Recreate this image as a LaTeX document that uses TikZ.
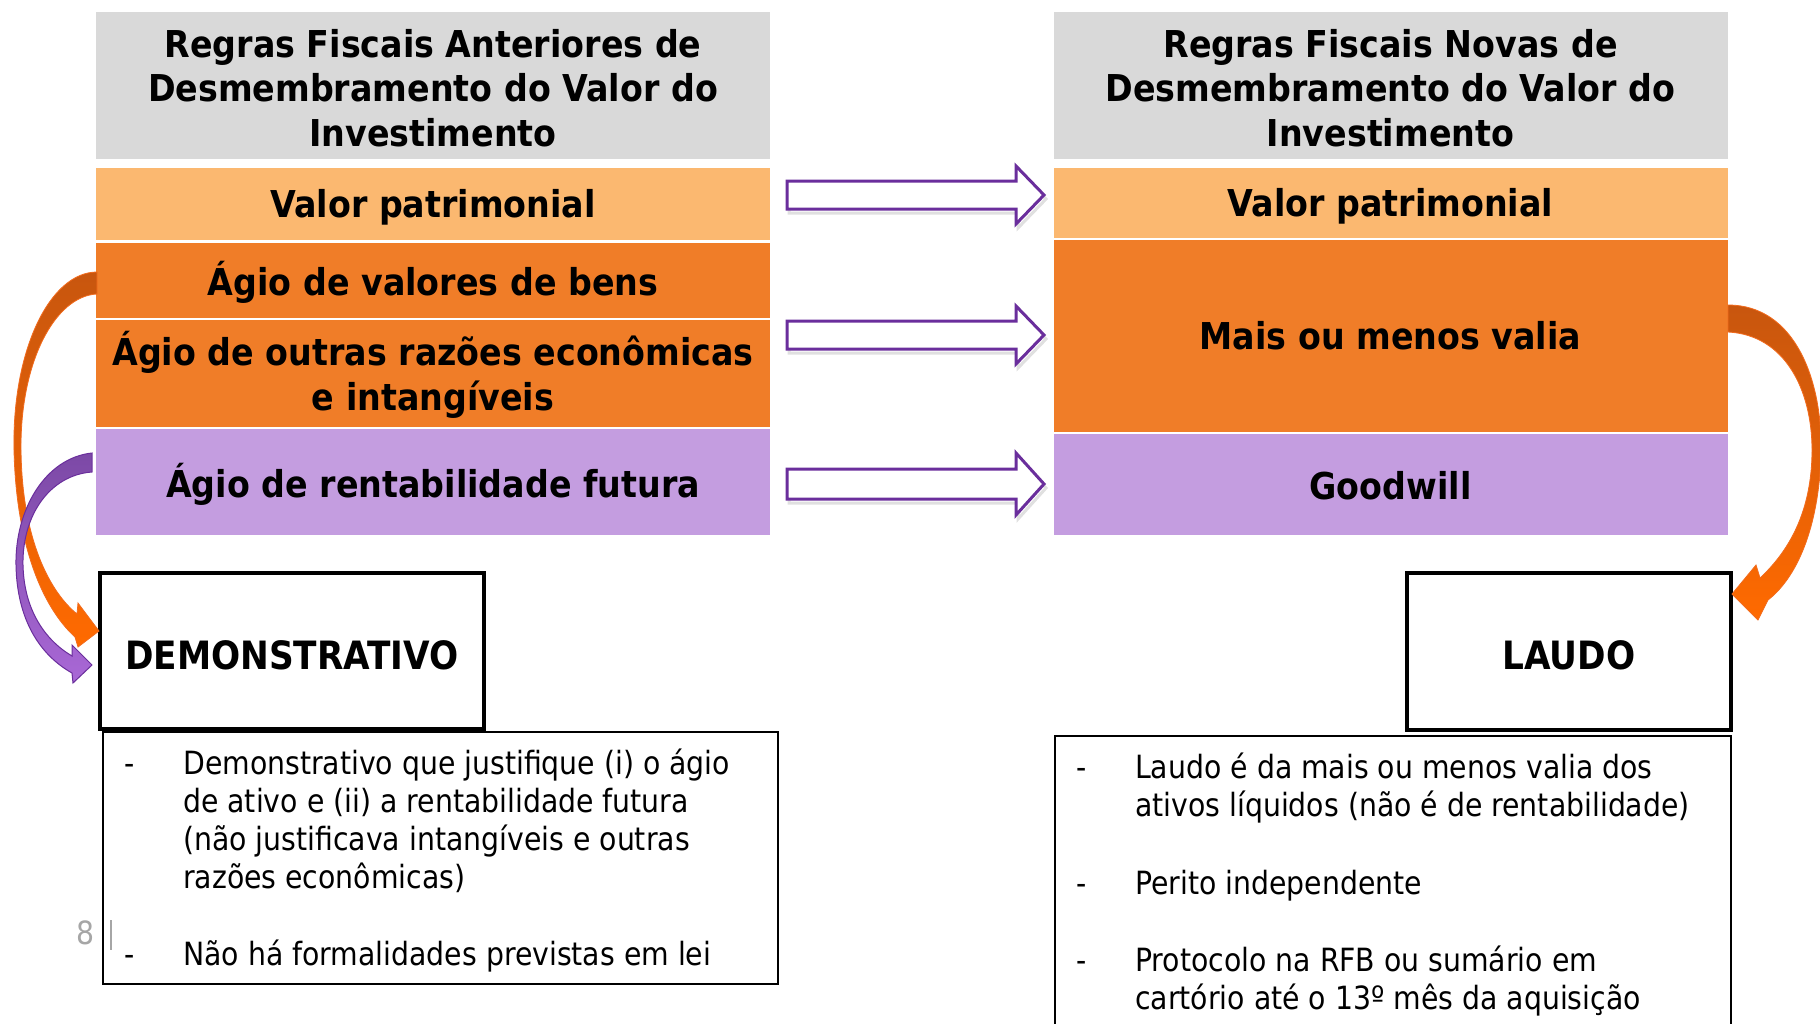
\documentclass[tikz,border=0pt]{standalone}
\usepackage{fontspec}
\newfontfamily\hfont[FakeStretch=0.9]{DejaVu Sans}
\newfontfamily\rfont[FakeStretch=0.88]{DejaVu Sans}
\newfontfamily\bfont[FakeStretch=0.885]{DejaVu Sans}
\definecolor{hdrgray}{HTML}{D9D9D9}
\definecolor{lorange}{HTML}{FBB870}
\definecolor{morange}{HTML}{F07D28}
\definecolor{lilac}{HTML}{C49DE0}
\definecolor{arrpurple}{HTML}{6A2E9C}
\definecolor{darkor}{HTML}{C8560E}
\definecolor{brightor}{HTML}{FF6A00}
\definecolor{edgeor}{HTML}{F26B1D}
\definecolor{darkpu}{HTML}{7C49A6}
\definecolor{brightpu}{HTML}{A968D6}
\definecolor{pagegray}{HTML}{A6A6A6}
\newcommand\hollowarrow[3]{%
  \draw[black, opacity=0.12, line width=3pt, line join=miter]
    (789,#1-#2+4) -- (1018,#1-#2+4) -- (1018,#1-#3+4) -- (1046,#1+4) -- (1018,#1+#3+4) -- (1018,#1+#2+4) -- (789,#1+#2+4) -- cycle;
  \draw[hollow]
    (787,#1-#2) -- (1016,#1-#2) -- (1016,#1-#3) -- (1044,#1) -- (1016,#1+#3) -- (1016,#1+#2) -- (787,#1+#2) -- cycle;}
\begin{document}
\begin{tikzpicture}[x=1pt,y=-1pt,
  band/.style={minimum width=674pt, inner sep=0pt},
  lbl/.style={inner sep=0pt, align=center, text=black,
    font=\hfont\bfseries\fontsize{37}{44.7}\selectfont},
  onelbl/.style={lbl, text height=28pt, text depth=8pt},
  rulebox/.style={draw=black, line width=4.5pt, inner sep=0pt, fill=white},
  rulelbl/.style={inner sep=0pt, font=\rfont\bfseries\fontsize{39}{42}\selectfont},
  textbox/.style={draw=black, line width=1.8pt, inner sep=0pt},
  item/.style={anchor=north west, inner sep=0pt, align=left,
    font=\bfont\fontsize{32}{38}\selectfont},
  dashmark/.style={anchor=base west, inner sep=0pt,
    font=\bfont\fontsize{32}{38}\selectfont},
  hollow/.style={draw=arrpurple, line width=3pt, fill=white, line join=miter}]
\clip (0,0) rectangle (1820,1023);
\fill[white] (0,0) rectangle (1820,1023);

% left column
\node[band, fill=hdrgray, minimum height=147pt] (lh) at (433,85.5) {};
\node[band, fill=lorange, minimum height=72pt] (lv) at (433,204) {};
\node[band, fill=morange, minimum height=75pt] (lb) at (433,280.5) {};
\node[band, fill=morange, minimum height=107pt] (lo) at (433,373.5) {};
\node[band, fill=lilac, minimum height=106pt] (lr) at (433,482) {};
\node[lbl, yshift=-2.5pt] (tlh) at (lh.center)
  {Regras Fiscais Anteriores de\\Desmembramento do Valor do\\Investimento};
\node[onelbl, yshift=-3pt] (tlv) at (lv.center) {Valor patrimonial};
\node[onelbl, yshift=-4.5pt] (tlb) at (lb.center) {Ágio de valores de bens};
\node[lbl, yshift=-1.5pt] (tlo) at (lo.center) {Ágio de outras razões econômicas\\e intangíveis};
\node[onelbl, yshift=-5pt] (tlr) at (lr.center) {Ágio de rentabilidade futura};

% right column
\node[band, fill=hdrgray, minimum height=147pt] (rh) at (1390.5,85.5) {};
\node[band, fill=lorange, minimum height=70pt] (rv) at (1390.5,203) {};
\node[band, fill=morange, minimum height=192pt] (rm) at (1390.5,336) {};
\node[band, fill=lilac, minimum height=101pt] (rg) at (1390.5,484.5) {};
\node[lbl, yshift=-2.5pt] (trh) at (rh.center)
  {Regras Fiscais Novas de\\Desmembramento do Valor do\\Investimento};
\node[onelbl, yshift=-3pt] (trv) at (rv.center) {Valor patrimonial};
\node[onelbl, yshift=-3.5pt] (trm) at (rm.center) {Mais ou menos valia};
\node[onelbl, yshift=-5pt] (trg) at (rg.center) {Goodwill};

% hollow arrows
\hollowarrow{195}{14}{29}
\hollowarrow{335}{14}{29}
\hollowarrow{484}{15}{31}

% text boxes
\node[textbox, minimum width=675pt, minimum height=252pt] (tl) at (440.5,858) {};
\node[textbox, minimum width=676pt, minimum height=304pt] (tr) at (1393,888) {};

% rule boxes
\node[rulebox, minimum width=384pt, minimum height=156pt] (dem) at (292,651) {};
\node[rulelbl, yshift=-4pt] (tdem) at (dem.center) {DEMONSTRATIVO};
\node[rulebox, minimum width=324pt, minimum height=157pt] (lau) at (1569,651.5) {};
\node[rulelbl, yshift=-4pt] (tlau) at (lau.center) {LAUDO};

% left list
\node[dashmark] (dl1) at (124,774) {-};
\node[item] (il1) at (183,749) {Demonstrativo que justifique (i) o ágio\\de ativo e (ii) a rentabilidade futura\\(não justificava intangíveis e outras\\razões econômicas)};
\node[dashmark] (dl2) at (124,965) {-};
\node[item] (il2) at (183,940) {Não há formalidades previstas em lei};

% right list
\node[dashmark] (dr1) at (1076,778) {-};
\node[item] (ir1) at (1135,753) {Laudo é da mais ou menos valia dos\\ativos líquidos (não é de rentabilidade)};
\node[dashmark] (dr2) at (1076,894) {-};
\node[item] (ir2) at (1135,870) {Perito independente};
\node[dashmark] (dr3) at (1076,971) {-};
\node[item] (ir3) at (1135,946) {Protocolo na RFB ou sumário em\\cartório até o 13º mês da aquisição};

% page number
\node[font=\bfont\fontsize{32}{34}\selectfont, text=pagegray, inner sep=0pt] (pg) at (85.5,933) {8};
\draw[pagegray, line width=1.2pt] (111,920) -- (111,950);

% curved orange arrow (left)
\path[top color=darkor, bottom color=brightor, draw=edgeor, line width=0.8pt]
  (97,272) .. controls (50,272) and (12,350) .. (14,450)
  .. controls (16,540) and (40,605) .. (75,637)
  -- (78,647) -- (99,631) -- (78,603) -- (77,614)
  .. controls (50,592) and (22,540) .. (21,450)
  .. controls (20,362) and (55,296) .. (97,294) -- cycle;

% curved purple arrow (left)
\path[top color=darkpu, bottom color=brightpu, draw=arrpurple, line width=1pt]
  (92,453) .. controls (45,458) and (15,510) .. (16,565)
  .. controls (17,620) and (40,655) .. (72,673)
  -- (73,683) -- (92,665) -- (72,645) -- (72,656)
  .. controls (45,640) and (24,610) .. (23,565)
  .. controls (22,515) and (50,475) .. (92,472) -- cycle;

% curved orange arrow (right)
\path[top color=darkor, bottom color=brightor, draw=edgeor, line width=0.8pt]
  (1728,305) .. controls (1795,305) and (1822,380) .. (1821,450)
  .. controls (1820,520) and (1800,575) .. (1768,600)
  -- (1758,620) -- (1732,594) -- (1756,565) -- (1760,578)
  .. controls (1790,550) and (1812,510) .. (1812,450)
  .. controls (1812,390) and (1785,335) .. (1728,332) -- cycle;
\end{tikzpicture}
\end{document}
